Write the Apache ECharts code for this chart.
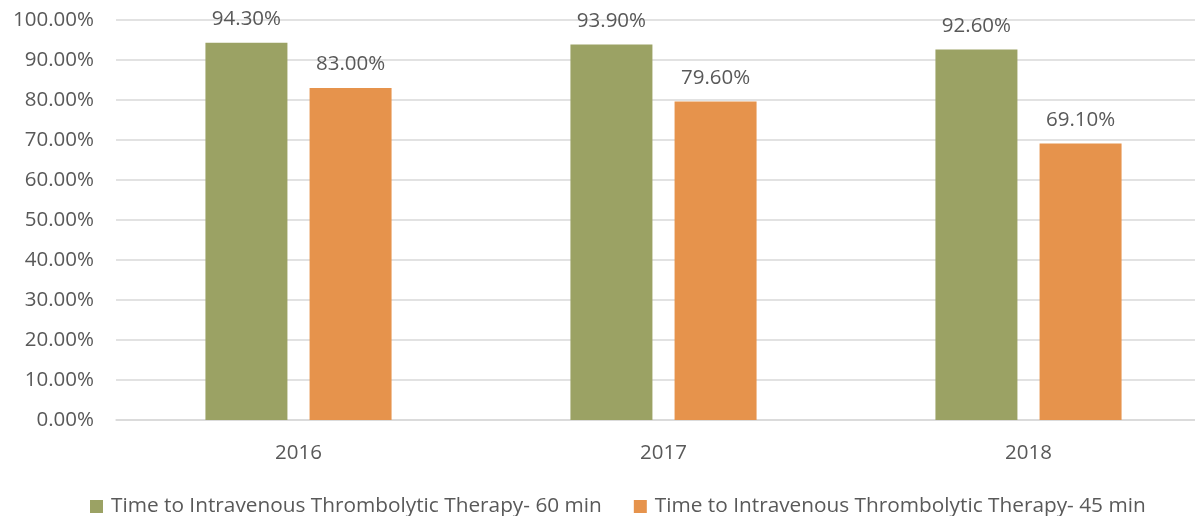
<!DOCTYPE html>
<html>
<head>
<meta charset="utf-8">
<script src="https://cdn.jsdelivr.net/npm/echarts@6/dist/echarts.min.js"></script>
<style>
html,body{margin:0;padding:0;background:#fff;}
#chart{width:1195px;height:516px;}
</style>
</head>
<body>
<div id="chart"></div>
<script>
const years = ['2016', '2017', '2018'];
const within60 = [94.3, 93.9, 92.6];
const within45 = [83.0, 79.6, 69.1];
const seriesNames = [
  'Time to Intravenous Thrombolytic Therapy- 60 min',
  'Time to Intravenous Thrombolytic Therapy- 45 min'
];
const yTicks = { min: 0, max: 100, interval: 10 };

const FONT = '"Open Sans", "Liberation Sans", sans-serif';
const TEXT = '#595959';
const FS = 20.5;

const chart = echarts.init(document.getElementById('chart'));

function barSeries(name, data, color) {
  return {
    name: name,
    type: 'bar',
    data: data,
    barWidth: 82,
    barGap: '27%',
    itemStyle: { color: color },
    label: {
      show: true,
      position: 'top',
      distance: 13,
      color: TEXT,
      fontFamily: FONT,
      fontSize: FS,
      formatter: p => p.value.toFixed(2) + '%'
    }
  };
}

chart.setOption({
  animation: false,
  textStyle: { fontFamily: FONT },
  // plot area runs past the right edge of the canvas
  grid: {
    left: 116, width: 1095, top: 20, height: 400,
    containLabel: false, outerBoundsMode: 'none'
  },
  legend: {
    top: 491,
    left: 85,
    itemWidth: 13,
    itemHeight: 13,
    itemGap: 32,
    icon: 'rect',
    textStyle: { color: TEXT, fontSize: 20.8, fontFamily: FONT, padding: [0, 0, 0, 3] },
    data: seriesNames
  },
  xAxis: {
    type: 'category',
    data: years,
    axisLine: { lineStyle: { color: '#d9d9d9', width: 1.5 } },
    axisTick: { show: false },
    axisLabel: { color: TEXT, fontSize: FS, fontFamily: FONT, margin: 23 }
  },
  yAxis: {
    type: 'value',
    min: yTicks.min,
    max: yTicks.max,
    interval: yTicks.interval,
    axisLine: { show: false },
    axisTick: { show: false },
    splitLine: { lineStyle: { color: '#d9d9d9', width: 1.5 } },
    axisLabel: {
      color: TEXT, fontSize: FS, fontFamily: FONT, margin: 22,
      formatter: v => v.toFixed(2) + '%'
    }
  },
  series: [
    barSeries(seriesNames[0], within60, '#9ba264'),
    barSeries(seriesNames[1], within45, '#e6934c')
  ]
});
</script>
</body>
</html>
